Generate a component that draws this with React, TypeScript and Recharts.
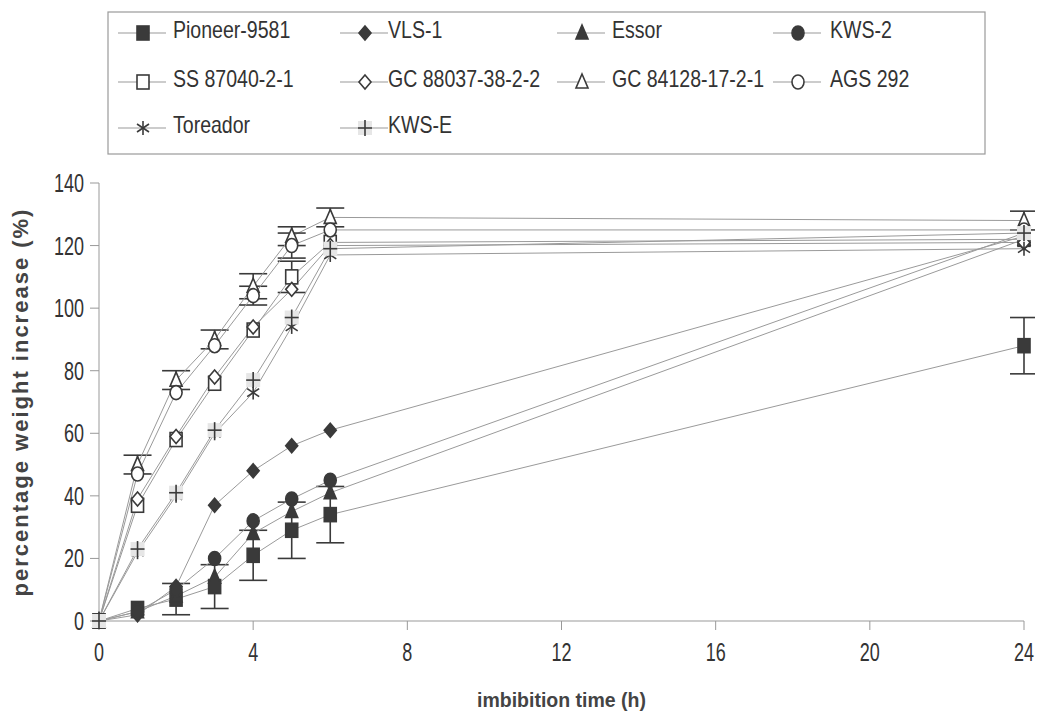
import React from 'react';
import { LineChart, Line, XAxis, YAxis, ErrorBar } from 'recharts';

const hours = [0, 1, 2, 3, 4, 5, 6, 24];
const xTicks = [0, 4, 8, 12, 16, 20, 24];
const yTicks = [0, 20, 40, 60, 80, 100, 120, 140];

const pioneer9581 = [0, 4, 7, 11, 21, 29, 34, 88];
const pioneer9581Err = [null, null, 5, 7, 8, 9, 9, 9];
const vls1 = [0, 2, 11, 37, 48, 56, 61, 123];
const essor = [0, 3, 8, 14, 28, 35, 41, 122];
const kws2 = [0, 3, 10, 20, 32, 39, 45, 124];
const ss87040 = [0, 37, 58, 76, 93, 110, 121, 122];
const ss87040Err = [null, null, null, null, null, 5, null, null];
const gc88037 = [0, 39, 59, 78, 94, 106, 120, 121];
const gc84128 = [0, 50, 77, 90, 107, 123, 129, 128];
const gc84128Err = [null, 3, 3, 3, 4, 3, 3, 3];
const ags292 = [0, 47, 73, 88, 104, 120, 125, 125];
const ags292Err = [null, null, null, null, 3, 4, null, null];
const toreador = [0, 22, 40, 60, 73, 94, 117, 119];
const kwsE = [0, 23, 41, 61, 77, 97, 119, 124];

type Shape = 'square' | 'diamond' | 'triangle' | 'circle' | 'star' | 'plus';

const series: { key: string; name: string; values: number[]; err?: (number | null)[]; shape: Shape; filled: boolean }[] = [
  { key: 'pioneer', name: 'Pioneer-9581', values: pioneer9581, err: pioneer9581Err, shape: 'square', filled: true },
  { key: 'vls', name: 'VLS-1', values: vls1, shape: 'diamond', filled: true },
  { key: 'essor', name: 'Essor', values: essor, shape: 'triangle', filled: true },
  { key: 'kws2', name: 'KWS-2', values: kws2, shape: 'circle', filled: true },
  { key: 'ss', name: 'SS 87040-2-1', values: ss87040, err: ss87040Err, shape: 'square', filled: false },
  { key: 'gc88', name: 'GC 88037-38-2-2', values: gc88037, shape: 'diamond', filled: false },
  { key: 'gc84', name: 'GC 84128-17-2-1', values: gc84128, err: gc84128Err, shape: 'triangle', filled: false },
  { key: 'ags', name: 'AGS 292', values: ags292, err: ags292Err, shape: 'circle', filled: false },
  { key: 'tor', name: 'Toreador', values: toreador, shape: 'star', filled: false },
  { key: 'kwse', name: 'KWS-E', values: kwsE, shape: 'plus', filled: false },
];

const data = hours.map((t, i) => {
  const row: Record<string, number | null> = { t };
  series.forEach((s) => {
    row[s.key] = s.values[i];
    if (s.err) row[s.key + 'Err'] = s.err[i];
  });
  return row;
});

const ink = '#3a3a3a';
const font = '"Liberation Sans", Arial, sans-serif';

function Marker({ cx, cy, shape, filled }: { cx: number; cy: number; shape: Shape; filled: boolean }) {
  const fill = filled ? ink : '#fff';
  const sw = 1.6;
  switch (shape) {
    case 'square':
      return <rect x={cx - 6} y={cy - 7} width={12} height={14} fill={fill} stroke={ink} strokeWidth={sw} />;
    case 'diamond':
      return <polygon points={`${cx},${cy - 7} ${cx + 6},${cy} ${cx},${cy + 7} ${cx - 6},${cy}`} fill={fill} stroke={ink} strokeWidth={sw} />;
    case 'triangle':
      return <polygon points={`${cx},${cy - 8} ${cx + 6},${cy + 6} ${cx - 6},${cy + 6}`} fill={fill} stroke={ink} strokeWidth={sw} />;
    case 'circle':
      return <ellipse cx={cx} cy={cy} rx={6} ry={7} fill={fill} stroke={ink} strokeWidth={sw} />;
    case 'star':
      return (
        <g stroke={ink} strokeWidth={sw}>
          <line x1={cx} y1={cy - 7} x2={cx} y2={cy + 7} />
          <line x1={cx - 6} y1={cy - 4} x2={cx + 6} y2={cy + 4} />
          <line x1={cx - 6} y1={cy + 4} x2={cx + 6} y2={cy - 4} />
        </g>
      );
    default:
      return (
        <g>
          <rect x={cx - 7} y={cy - 7} width={14} height={14} fill="#e6e6e6" />
          <g stroke={ink} strokeWidth={sw}>
            <line x1={cx} y1={cy - 8} x2={cx} y2={cy + 8} />
            <line x1={cx - 7} y1={cy} x2={cx + 7} y2={cy} />
          </g>
        </g>
      );
  }
}

// narrow tick labels, like the condensed face in the scan
function XTick({ x, y, payload }: any) {
  return (
    <g transform={`translate(${x},${y})`}>
      <text transform="scale(0.72,1)" textAnchor="middle" dy="0.71em" fill="#333" fontSize={25} fontFamily={font}>
        {payload.value}
      </text>
    </g>
  );
}

function YTick({ x, y, payload }: any) {
  return (
    <g transform={`translate(${x},${y})`}>
      <text transform="scale(0.72,1)" textAnchor="end" dy="0.36em" fill="#333" fontSize={25} fontFamily={font}>
        {payload.value}
      </text>
    </g>
  );
}

const legendMarkX = [135, 357, 574, 790];
const legendTextX = [165, 380, 604, 822];
const legendRowY = [25, 74, 120];

function LegendBox() {
  return (
    <svg width={1035} height={160} style={{ position: 'absolute', left: 0, top: 0, pointerEvents: 'none' }}>
      <rect x={100} y={4} width={877} height={142} fill="none" stroke="#9a9a9a" strokeWidth={1.2} />
      {series.map((s, i) => {
        const mx = legendMarkX[i % 4];
        const tx = legendTextX[i % 4];
        const my = legendRowY[Math.floor(i / 4)];
        return (
          <g key={s.key}>
            <line x1={mx - 25} y1={my} x2={mx + 23} y2={my} stroke="#999" strokeWidth={1} />
            <Marker cx={mx} cy={my} shape={s.shape} filled={s.filled} />
            <g transform={`translate(${tx},${my + 5})`}>
              <text transform="scale(0.85,1)" fill="#333" fontSize={23} fontFamily={font}>
                {s.name}
              </text>
            </g>
          </g>
        );
      })}
    </svg>
  );
}

export default function App() {
  return (
    <div style={{ position: 'relative', width: 1035, height: 709 }}>
      <LineChart width={1035} height={709} data={data} margin={{ top: 175, right: 19, left: 0, bottom: 0 }}>
        <XAxis
          dataKey="t"
          type="number"
          domain={[0, 24]}
          ticks={xTicks}
          stroke="#999"
          tickSize={9}
          tick={<XTick />}
          tickMargin={13}
          height={96}
          label={{ value: 'imbibition time (h)', position: 'insideBottom', offset: 10, fill: '#444', fontSize: 19.5, fontWeight: 'bold', fontFamily: font }}
        />
        <YAxis
          domain={[0, 140]}
          ticks={yTicks}
          stroke="#999"
          width={91}
          tickSize={9}
          tickMargin={6}
          tick={<YTick />}
          label={{
            value: 'percentage weight increase (%)',
            angle: -90,
            position: 'insideLeft',
            offset: 12,
            style: { textAnchor: 'middle', letterSpacing: 2 },
            fill: '#444',
            fontSize: 22,
            fontWeight: 'bold',
            fontFamily: font,
          }}
        />
        {series.map((s) => (
          <Line
            key={s.key}
            dataKey={s.key}
            name={s.name}
            stroke="#9a9a9a"
            strokeWidth={1}
            isAnimationActive={false}
            dot={(p: any) => <Marker key={`${s.key}-${p.index}`} cx={p.cx} cy={p.cy} shape={s.shape} filled={s.filled} />}
            activeDot={false}
          >
            {s.err && <ErrorBar dataKey={s.key + 'Err'} width={14} stroke={ink} strokeWidth={1.6} direction="y" />}
          </Line>
        ))}
      </LineChart>
      <LegendBox />
    </div>
  );
}
